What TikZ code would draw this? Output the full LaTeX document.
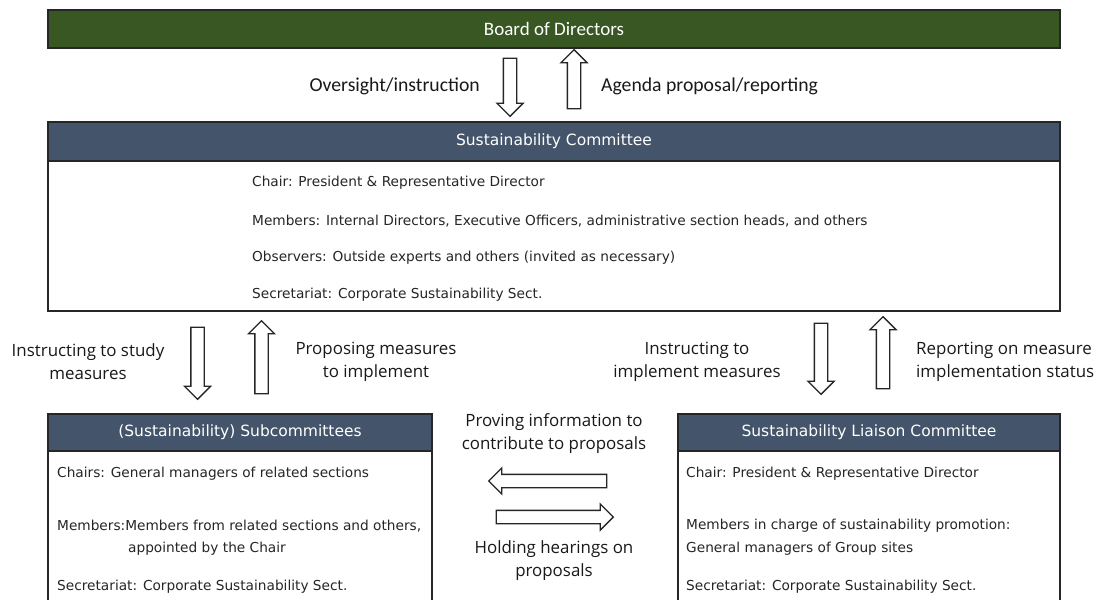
\documentclass[tikz,border=0pt]{standalone}
\usepackage{fontspec}
\setmainfont{DejaVu Sans}
\newfontfamily\calfont{Carlito}
\newfontfamily\labfont{Open Sans}
\usepackage{xcolor}
\usetikzlibrary{shapes.arrows}

\definecolor{boardgreen}{HTML}{385723}
\definecolor{headslate}{HTML}{44546A}
\definecolor{edgegray}{HTML}{262626}

\tikzset{
  boardbox/.style={draw=edgegray, line width=1.5pt, fill=boardgreen, text=white, inner sep=0pt, font=\calfont\fontsize{19}{22}\selectfont},
  headbox/.style={draw=edgegray, line width=1.5pt, fill=headslate, text=white, inner sep=0pt, font=\fontsize{15.5}{18}\selectfont},
  bodybox/.style={draw=edgegray, line width=1.5pt, fill=white, inner sep=0pt},
  entry/.style={anchor=west, inner sep=0pt, text=black!85, font=\fontsize{13.7}{16}\selectfont},
  toplbl/.style={inner sep=0pt, text=black!90, font=\calfont\fontsize{19.7}{23}\selectfont},
  midlbl/.style={inner sep=0pt, align=center, text=black!90, font=\labfont\fontsize{16.9}{23}\selectfont},
  blockarrow/.style={single arrow, draw=edgegray, line width=1.3pt, fill=white, inner xsep=0pt, inner ysep=6pt, single arrow head extend=6.5pt}
}

\begin{document}
\begin{tikzpicture}[x=1pt,y=-1pt]
\clip (0,0) rectangle (1099,599);
\fill[white] (0,0) rectangle (1099,599);

% Board of Directors
\node[boardbox, minimum width=1012pt, minimum height=38pt] (board) at (554,29) {Board of Directors};

% Board <-> Committee
\node[blockarrow, minimum height=58pt, rotate=-90] (ovr) at (510,84) {};
\node[blockarrow, minimum height=59pt, rotate=90] (agd) at (574,82.5) {};
\node[toplbl, anchor=east] (lovr) at (480,86) {Oversight/instruction};
\node[toplbl, anchor=west] (lagd) at (601,86) {Agenda proposal/reporting};

% Sustainability Committee
\node[headbox, minimum width=1012pt, minimum height=39pt] (schead) at (554,141.5) {Sustainability Committee};
\node[bodybox, minimum width=1012pt, minimum height=150pt] (scbody) at (554,236) {};
\node[entry] (sc1) at (252,183) {Chair: President \& Representative Director};
\node[entry] (sc2) at (252,221) {Members: Internal Directors, Executive Officers, administrative section heads, and others};
\node[entry] (sc3) at (252,258) {Observers: Outside experts and others (invited as necessary)};
\node[entry] (sc4) at (252,295) {Secretariat: Corporate Sustainability Sect.};

% Committee <-> Subcommittees
\node[blockarrow, minimum height=72pt, rotate=-90] (stdy) at (197.5,360) {};
\node[blockarrow, minimum height=73pt, rotate=90] (prop) at (261.5,360.5) {};
\node[midlbl] (lstdy) at (88,361.5) {Instructing to study\\measures};
\node[midlbl] (lprop) at (376,361.5) {Proposing measures\\to implement};

% Committee <-> Liaison Committee
\node[blockarrow, minimum height=71pt, rotate=-90] (impl) at (821,355.5) {};
\node[blockarrow, minimum height=72pt, rotate=90] (rprt) at (883,356) {};
\node[midlbl] (limpl) at (697,361.5) {Instructing to\\implement measures};
\node[midlbl, align=left, anchor=west] (lrprt) at (916,361.5) {Reporting on measure\\implementation status};

% (Sustainability) Subcommittees
\node[headbox, minimum width=384pt, minimum height=37pt] (subhead) at (240,432.5) {(Sustainability) Subcommittees};
\node[bodybox, minimum width=384pt, minimum height=189pt] (subbody) at (240,545.5) {};
\node[entry] (sub1) at (57,474) {Chairs: General managers of related sections};
\node[entry] (sub2) at (57,526) {Members:Members from related sections and others,};
\node[entry] (sub3) at (128,549) {appointed by the Chair};
\node[entry] (sub4) at (57,587) {Secretariat: Corporate Sustainability Sect.};

% Sustainability Liaison Committee
\node[headbox, minimum width=382pt, minimum height=37pt] (lsnhead) at (869,432.5) {Sustainability Liaison Committee};
\node[bodybox, minimum width=382pt, minimum height=189pt] (lsnbody) at (869,545.5) {};
\node[entry] (lsn1) at (686,474) {Chair: President \& Representative Director};
\node[entry] (lsn2) at (686,526) {Members in charge of sustainability promotion:};
\node[entry] (lsn3) at (686,549) {General managers of Group sites};
\node[entry] (lsn4) at (686,587) {Secretariat: Corporate Sustainability Sect.};

% Subcommittees <-> Liaison Committee
\node[blockarrow, minimum height=118pt, rotate=180] (info) at (551,481) {};
\node[blockarrow, minimum height=117pt] (hear) at (551.5,517) {};
\node[midlbl] (linfo) at (554,434) {Proving information to\\contribute to proposals};
\node[midlbl] (lhear) at (554,560.5) {Holding hearings on\\proposals};

\end{tikzpicture}
\end{document}
